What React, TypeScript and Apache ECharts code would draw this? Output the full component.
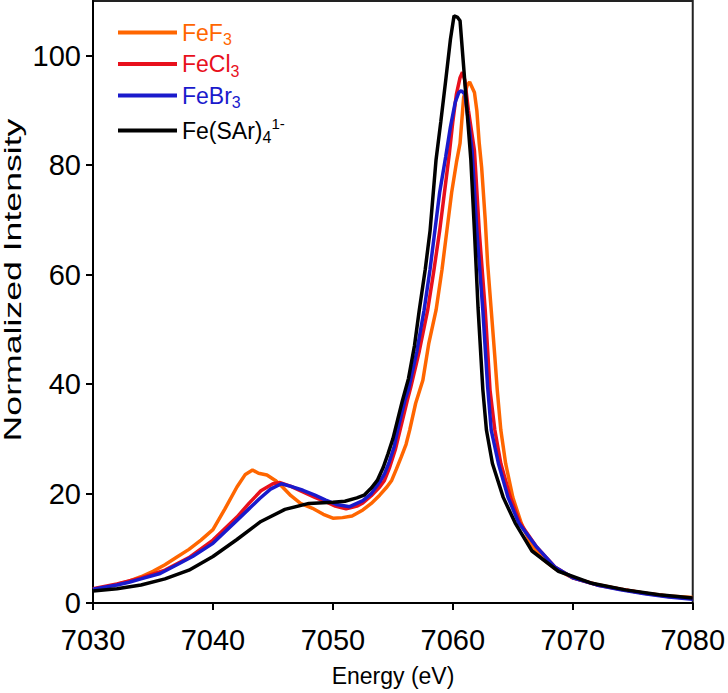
import React, { useEffect, useRef } from "react";
import * as echarts from "echarts";

const xTicks = [7030, 7040, 7050, 7060, 7070, 7080];
const yTicks = [0, 20, 40, 60, 80, 100];

const seriesNames = ["FeF3", "FeCl3", "FeBr3", "Fe(SAr)4"];
const legendLabels = ["{m|FeF}{s|3}", "{m|FeCl}{s|3}", "{m|FeBr}{s|3}", "{m|Fe(SAr)}{s|4}{p|1-}"];
const seriesColors = ["#ff6600", "#e8101c", "#1a1acc", "#000000"];

const energyFeF3 = [7030, 7031, 7032, 7033, 7034, 7035, 7036, 7037, 7038, 7039, 7040, 7041, 7042, 7042.7, 7043.3, 7043.8, 7044.5, 7045.2, 7045.8, 7046.5, 7047.3, 7048.3, 7049.2, 7050, 7050.8, 7051.6, 7052.5, 7053.2, 7053.9, 7054.5, 7054.9, 7055.3, 7055.7, 7056.1, 7056.4, 7056.9, 7057.5, 7058, 7058.6, 7059.1, 7059.5, 7059.9, 7060.3, 7060.6, 7060.9, 7061.2, 7061.4, 7061.8, 7062.0, 7062.2, 7062.4, 7062.7, 7062.9, 7063.2, 7063.5, 7063.7, 7064.0, 7064.4, 7065.0, 7065.7, 7066.5, 7067.5, 7068.5, 7070, 7072, 7074, 7076, 7078, 7080];
const intensityFeF3 = [2.5, 2.9, 3.4, 4.0, 4.8, 5.8, 7.0, 8.4, 9.8, 11.5, 13.4, 17.2, 21.2, 23.5, 24.3, 23.7, 23.4, 22.4, 21.2, 19.6, 18.2, 17.3, 16.2, 15.5, 15.6, 15.9, 17.0, 18.2, 19.7, 21.2, 22.4, 24.5, 26.7, 29, 31.6, 36.5, 40.7, 47.5, 53.5, 61, 68, 75, 80.5, 84, 92.4, 94.6, 95.2, 93.3, 90, 84, 79.6, 70, 62, 53.5, 45, 39, 31.6, 25.5, 19.3, 14.6, 10.8, 8, 6.3, 4.6, 3.4, 2.5, 1.8, 1.3, 1.0];

const energyFeCl3 = [7030, 7032, 7034, 7036, 7038, 7040, 7042, 7043, 7044, 7045, 7045.6, 7046.5, 7047.5, 7048.5, 7049.4, 7050.2, 7051.1, 7052, 7052.5, 7053.2, 7053.9, 7054.3, 7054.7, 7055.2, 7055.6, 7056.2, 7056.5, 7057.2, 7057.9, 7058.4, 7058.9, 7059.3, 7059.7, 7060.0, 7060.3, 7060.6, 7060.8, 7061.0, 7061.3, 7061.8, 7062.2, 7062.7, 7063.1, 7063.5, 7064, 7064.8, 7065.6, 7067, 7068.5, 7070, 7072, 7074, 7076, 7078, 7080];
const intensityFeCl3 = [2.6, 3.5, 4.6, 6.0, 8.3, 11.5, 15.7, 18.2, 20.5, 21.8, 22.0, 21.3, 20.3, 19.3, 18.5, 17.7, 17.2, 17.7, 18.3, 19.6, 21.2, 22.4, 24.6, 28, 31.6, 37, 39.5, 46, 53.5, 60.5, 68, 75, 82, 88, 93, 96, 97, 95.5, 90, 82.7, 68, 53.5, 38.9, 31.6, 25.5, 19.3, 14.6, 10.2, 6.6, 4.6, 3.3, 2.5, 1.8, 1.2, 0.8];

const energyFeBr3 = [7030, 7032, 7033, 7034, 7035.6, 7037, 7038.3, 7040, 7042, 7043, 7043.9, 7044.8, 7045.7, 7046.5, 7047.5, 7048.5, 7049.4, 7050.3, 7051.4, 7052.5, 7053.2, 7053.9, 7054.3, 7054.7, 7055.1, 7055.4, 7056, 7056.3, 7057, 7057.6, 7058.1, 7058.5, 7058.9, 7059.4, 7059.8, 7060.2, 7060.5, 7060.7, 7061.0, 7061.3, 7061.6, 7062.0, 7062.5, 7062.9, 7063.2, 7063.8, 7064.6, 7065.5, 7067, 7068.5, 7070, 7072, 7074, 7076, 7078, 7080];
const intensityFeBr3 = [2.5, 3.3, 3.8, 4.4, 5.4, 7, 8.5, 10.9, 15.1, 17.2, 19.1, 20.8, 21.8, 21.3, 20.6, 19.7, 18.8, 18.0, 17.6, 18.7, 20, 22.1, 23.6, 25.8, 28.5, 31.6, 37, 39, 46, 53.5, 61, 68, 75, 81.5, 87, 91.5, 93.3, 93.6, 93, 88, 82.7, 68, 53.5, 39.5, 31.6, 25.5, 19.3, 14.6, 10.2, 6.6, 4.6, 3.3, 2.4, 1.7, 1.1, 0.7];

const energyFeSAr4 = [7030, 7032, 7034, 7036, 7038, 7040, 7042, 7044, 7046, 7048, 7050, 7051, 7052, 7052.6, 7053.2, 7053.7, 7054.2, 7054.6, 7055, 7055.4, 7055.8, 7056.3, 7056.8, 7057.2, 7057.7, 7058.1, 7058.6, 7059, 7059.4, 7059.8, 7060.1, 7060.4, 7060.6, 7060.9, 7061.2, 7061.5, 7061.8, 7062.1, 7062.5, 7062.8, 7063.3, 7064.2, 7065.2, 7066.6, 7068.8, 7071.6, 7074.4, 7077.2, 7080];
const intensityFeSAr4 = [2.2, 2.6, 3.3, 4.4, 6.0, 8.5, 11.6, 14.9, 17.1, 18.2, 18.4, 18.6, 19.2, 19.7, 21, 22.4, 24.8, 27.3, 30, 33.5, 37, 41, 47, 53.5, 61, 68, 81, 88, 95.4, 103, 107.3, 107, 106.4, 98, 89.4, 81, 68, 54, 39, 31.6, 25.5, 19.3, 14.6, 9.5, 5.8, 3.6, 2.4, 1.5, 0.9];

const energies = [energyFeF3, energyFeCl3, energyFeBr3, energyFeSAr4];
const intensities = [intensityFeF3, intensityFeCl3, intensityFeBr3, intensityFeSAr4];

const FONT = "Arial, 'Liberation Sans', Helvetica, sans-serif";

export default function App() {
  const ref = useRef<HTMLDivElement>(null);
  useEffect(() => {
    if (!ref.current) return;
    const chart = echarts.init(ref.current, null, { renderer: "svg" });
    const series = seriesNames.map((name, i) => ({
      name,
      type: "line",
      data: energies[i].map((e, j) => [e, intensities[i][j]]),
      showSymbol: false,
      symbol: "none",
      lineStyle: { color: seriesColors[i], width: 3.5 },
      itemStyle: { color: seriesColors[i] },
      z: 2 + i,
    }));
    chart.setOption({
      animation: false,
      backgroundColor: "#ffffff",
      grid: {
        left: 93,
        right: 34,
        top: 1,
        bottom: 90,
        show: true,
        borderColor: "#222",
        borderWidth: 2,
      },
      legend: {
        orient: "vertical",
        left: 116,
        top: 21,
        padding: 0,
        itemWidth: 59,
        itemHeight: 14,
        itemGap: 5,
        itemStyle: { opacity: 0 },
        lineStyle: { width: 4 },
        data: seriesNames.map((n, i) => ({ name: n, textStyle: { color: seriesColors[i] } })),
        formatter: (name: string) => legendLabels[seriesNames.indexOf(name)],
        textStyle: {
          fontFamily: FONT,
          fontSize: 23,
          padding: [0, 0, 0, 0],
          rich: {
            m: { fontFamily: FONT, fontSize: 23, lineHeight: 30 },
            s: { fontFamily: FONT, fontSize: 16, lineHeight: 13, verticalAlign: "bottom" },
            p: { fontFamily: FONT, fontSize: 15, lineHeight: 14, verticalAlign: "top" },
          },
        },
      },
      xAxis: {
        type: "value",
        min: 7030,
        max: 7080,
        interval: 10,
        axisLine: { show: true, onZero: false, lineStyle: { color: "#000", width: 2 } },
        axisTick: { show: true, inside: false, length: 7, lineStyle: { color: "#000", width: 2 }, customValues: xTicks },
        axisLabel: {
          fontFamily: FONT,
          fontSize: 29,
          color: "#000",
          margin: 22,
          customValues: xTicks,
          formatter: (v: number) => String(v),
        },
        splitLine: { show: false },
      },
      yAxis: {
        type: "value",
        min: 0,
        max: 110,
        interval: 20,
        axisLine: { show: true, onZero: false, lineStyle: { color: "#000", width: 2 } },
        axisTick: { show: true, inside: false, length: 7, lineStyle: { color: "#000", width: 2 }, customValues: yTicks },
        axisLabel: {
          fontFamily: FONT,
          fontSize: 29,
          color: "#000",
          margin: 12,
          customValues: yTicks,
          formatter: (v: number) => String(v),
        },
        splitLine: { show: false },
      },
      graphic: [
        {
          type: "text",
          x: 13,
          y: 280,
          rotation: Math.PI / 2,
          scaleX: 1.55,
          scaleY: 1,
          style: {
            text: "Normalized Intensity",
            fontFamily: FONT,
            fontSize: 23,
            fill: "#000",
            align: "center",
            verticalAlign: "middle",
          },
        },
        {
          type: "text",
          x: 393,
          y: 676,
          style: {
            text: "Energy (eV)",
            fontFamily: FONT,
            fontSize: 23,
            fill: "#000",
            align: "center",
            verticalAlign: "middle",
          },
        },
      ],
      series,
    });
    return () => chart.dispose();
  }, []);
  return <div ref={ref} style={{ position: "absolute", left: 0, top: 0, width: 728, height: 693 }} />;
}
